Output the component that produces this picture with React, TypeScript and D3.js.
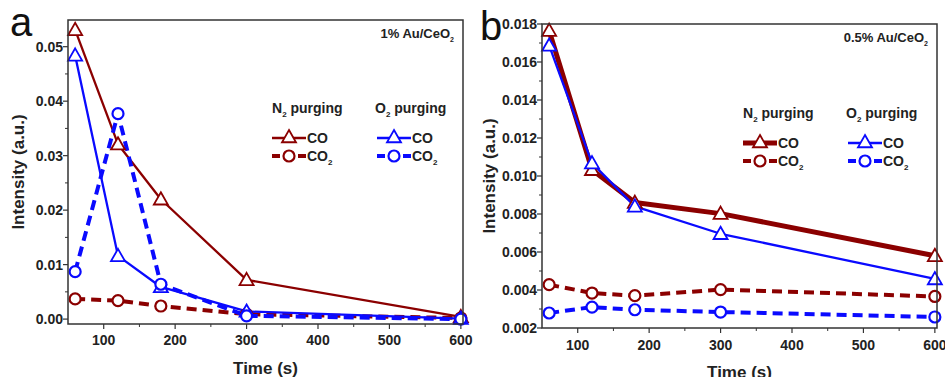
import React from "react";
import * as d3 from "d3";

const times = [60, 120, 180, 300, 600];

// Panel a: 1% Au/CeO2
const aN2CO = [0.0531, 0.0321, 0.022, 0.0072, 0.0004];
const aN2CO2 = [0.0037, 0.0034, 0.0024, 0.0009, 0.0002];
const aO2CO = [0.0484, 0.0116, 0.0059, 0.0014, 0.0001];
const aO2CO2 = [0.0087, 0.0377, 0.0064, 0.0006, 0.0];

// Panel b: 0.5% Au/CeO2
const bN2CO = [0.01765, 0.01033, 0.0086, 0.00802, 0.0058];
const bN2CO2 = [0.00428, 0.00384, 0.0037, 0.00402, 0.00366];
const bO2CO = [0.01687, 0.01068, 0.0084, 0.00696, 0.00458];
const bO2CO2 = [0.00279, 0.0031, 0.00296, 0.00284, 0.00258];

const xTicks = [100, 200, 300, 400, 500, 600];
const xMinor = [150, 250, 350, 450, 550];
const aYTicks = [0, 0.01, 0.02, 0.03, 0.04, 0.05];
const aYMinor = [0.005, 0.015, 0.025, 0.035, 0.045];
const bYTicks = [0.002, 0.004, 0.006, 0.008, 0.01, 0.012, 0.014, 0.016, 0.018];
const bYMinor = [0.003, 0.005, 0.007, 0.009, 0.011, 0.013, 0.015, 0.017];

const RED = "#8b0000";
const BLUE = "#0a0aff";
const FONT = "'Liberation Sans', Arial, sans-serif";

type Series = { values: number[]; color: string; marker: "tri" | "circ"; dashed: boolean; width: number };

function Triangle({ x, y, color }: { x: number; y: number; color: string }) {
  const s = 7;
  return (
    <path
      d={`M${x},${y - s} L${x + s},${y + s * 0.75} L${x - s},${y + s * 0.75} Z`}
      fill="white"
      stroke={color}
      strokeWidth={1.8}
    />
  );
}

function Circle({ x, y, color }: { x: number; y: number; color: string }) {
  return <circle cx={x} cy={y} r={5.5} fill="white" stroke={color} strokeWidth={2.2} />;
}

function Panel(props: {
  left: number; top: number; right: number; bottom: number;
  yDomain: [number, number]; yTicks: number[]; yMinor: number[]; yFmt: (v: number) => string;
  series: Series[]; letter: string; letterX: number; sample: string;
  legend: { n2x: number; o2x: number; headY: number; row1: number; row2: number; sw: number; thickN2: boolean };
  yTitleX: number; xTitleY: number; xLabelY: number;
}) {
  const { left, top, right, bottom } = props;
  const x = d3.scaleLinear().domain([50, 603]).range([left, right]);
  const y = d3.scaleLinear().domain(props.yDomain).range([bottom, top]);
  const line = d3.line<number>().x((_, i) => x(times[i])).y((v) => y(v));
  const lg = props.legend;

  const legendItem = (lx: number, ly: number, color: string, marker: "tri" | "circ", dashed: boolean, w: number, label: React.ReactNode) => (
    <g>
      {dashed ? (
        <>
          <line x1={lx} x2={lx + 8} y1={ly} y2={ly} stroke={color} strokeWidth={4} />
          <line x1={lx + lg.sw - 8} x2={lx + lg.sw} y1={ly} y2={ly} stroke={color} strokeWidth={4} />
        </>
      ) : (
        <line x1={lx} x2={lx + lg.sw} y1={ly} y2={ly} stroke={color} strokeWidth={w} />
      )}
      {marker === "tri" ? <Triangle x={lx + lg.sw / 2} y={ly - 1} color={color} /> : <Circle x={lx + lg.sw / 2} y={ly} color={color} />}
      <text x={lx + lg.sw + 1} y={ly + 5} fontSize={14} fontWeight="bold" fontFamily={FONT} fill="#222">{label}</text>
    </g>
  );

  return (
    <g>
      {/* series lines */}
      {props.series.map((s, i) => (
        <path
          key={`l${i}`}
          d={line(s.values) || ""}
          fill="none"
          stroke={s.color}
          strokeWidth={s.width}
          strokeDasharray={s.dashed ? "10,6" : undefined}
          strokeLinejoin="round"
        />
      ))}
      {/* markers */}
      {props.series.map((s, i) =>
        s.values.map((v, j) =>
          s.marker === "tri" ? (
            <Triangle key={`m${i}-${j}`} x={x(times[j])} y={y(v)} color={s.color} />
          ) : (
            <Circle key={`m${i}-${j}`} x={x(times[j])} y={y(v)} color={s.color} />
          )
        )
      )}
      {/* frame */}
      <rect x={left} y={top} width={right - left} height={bottom - top} fill="none" stroke="#333" strokeWidth={1.5} />
      {/* x axis ticks */}
      {xTicks.map((t) => (
        <g key={`xt${t}`}>
          <line x1={x(t)} x2={x(t)} y1={bottom} y2={bottom + 5} stroke="#333" strokeWidth={1.2} />
          <text x={x(t)} y={props.xLabelY} textAnchor="middle" fontSize={14} fontWeight="bold" fontFamily={FONT} fill="#222">{t}</text>
        </g>
      ))}
      {xMinor.map((t) => (
        <line key={`xm${t}`} x1={x(t)} x2={x(t)} y1={bottom} y2={bottom + 3} stroke="#333" strokeWidth={1} />
      ))}
      {/* y axis ticks */}
      {props.yTicks.map((t) => (
        <g key={`yt${t}`}>
          <line x1={left - 5} x2={left} y1={y(t)} y2={y(t)} stroke="#333" strokeWidth={1.2} />
          <text x={left - 5} y={y(t) + 5} textAnchor="end" fontSize={14} fontWeight="bold" fontFamily={FONT} fill="#222">{props.yFmt(t)}</text>
        </g>
      ))}
      {props.yMinor.map((t) => (
        <line key={`ym${t}`} x1={left - 3} x2={left} y1={y(t)} y2={y(t)} stroke="#333" strokeWidth={1} />
      ))}
      {/* titles */}
      <text
        transform={`translate(${props.yTitleX},${(top + bottom) / 2}) rotate(-90)`}
        textAnchor="middle" fontSize={17} fontWeight="bold" fontFamily={FONT} fill="#222"
      >Intensity (a.u.)</text>
      <text x={(left + right) / 2} y={props.xTitleY} textAnchor="middle" fontSize={17} fontWeight="bold" fontFamily={FONT} fill="#222">Time (s)</text>
      <text x={props.letterX} y={top + 16} fontSize={40} fontFamily={FONT} fill="#111">{props.letter}</text>
      <text x={right - 9} y={top + 18} textAnchor="end" fontSize={13} fontWeight="bold" fontFamily={FONT} fill="#222">
        {props.sample}<tspan fontSize={7} dy={4}>2</tspan>
      </text>
      {/* legend */}
      <text x={lg.n2x} y={lg.headY} fontSize={14} fontWeight="bold" fontFamily={FONT} fill="#222">
        N<tspan fontSize={8} dy={4}>2</tspan><tspan dy={-4}> purging</tspan>
      </text>
      <text x={lg.o2x} y={lg.headY} fontSize={14} fontWeight="bold" fontFamily={FONT} fill="#222">
        O<tspan fontSize={8} dy={4}>2</tspan><tspan dy={-4}> purging</tspan>
      </text>
      {legendItem(lg.n2x, lg.row1, RED, "tri", false, lg.thickN2 ? 5 : 2.3, "CO")}
      {legendItem(lg.n2x, lg.row2, RED, "circ", true, 4, <>{" CO"}<tspan fontSize={8} dy={4}>2</tspan></>)}
      {legendItem(lg.o2x + 2, lg.row1, BLUE, "tri", false, 2.3, "CO")}
      {legendItem(lg.o2x + 2, lg.row2, BLUE, "circ", true, 4, <>{" CO"}<tspan fontSize={8} dy={4}>2</tspan></>)}
    </g>
  );
}

export default function App() {
  const fmtA = d3.format(".2f");
  const fmtB = d3.format(".3f");
  return (
    <svg width={945} height={377} style={{ position: "absolute", left: 0, top: 0, background: "white" }}>
      <Panel
        left={68} top={20} right={463} bottom={324}
        yDomain={[-0.0009, 0.0549]} yTicks={aYTicks} yMinor={aYMinor} yFmt={fmtA}
        series={[
          { values: aN2CO, color: RED, marker: "tri", dashed: false, width: 2.3 },
          { values: aN2CO2, color: RED, marker: "circ", dashed: true, width: 4 },
          { values: aO2CO, color: BLUE, marker: "tri", dashed: false, width: 2.3 },
          { values: aO2CO2, color: BLUE, marker: "circ", dashed: true, width: 4 },
        ]}
        letter="a" letterX={10} sample="1% Au/CeO"
        legend={{ n2x: 272, o2x: 375, headY: 113, row1: 138, row2: 156, sw: 34, thickN2: false }}
        yTitleX={24} xTitleY={374} xLabelY={345}
      />
      <Panel
        left={542} top={24} right={937} bottom={328}
        yDomain={[0.002, 0.018]} yTicks={bYTicks} yMinor={bYMinor} yFmt={fmtB}
        series={[
          { values: bN2CO, color: RED, marker: "tri", dashed: false, width: 5 },
          { values: bN2CO2, color: RED, marker: "circ", dashed: true, width: 4 },
          { values: bO2CO, color: BLUE, marker: "tri", dashed: false, width: 2.3 },
          { values: bO2CO2, color: BLUE, marker: "circ", dashed: true, width: 4 },
        ]}
        letter="b" letterX={480} sample="0.5% Au/CeO"
        legend={{ n2x: 743, o2x: 846, headY: 118, row1: 143, row2: 161, sw: 34, thickN2: true }}
        yTitleX={495} xTitleY={378} xLabelY={350}
      />
    </svg>
  );
}
